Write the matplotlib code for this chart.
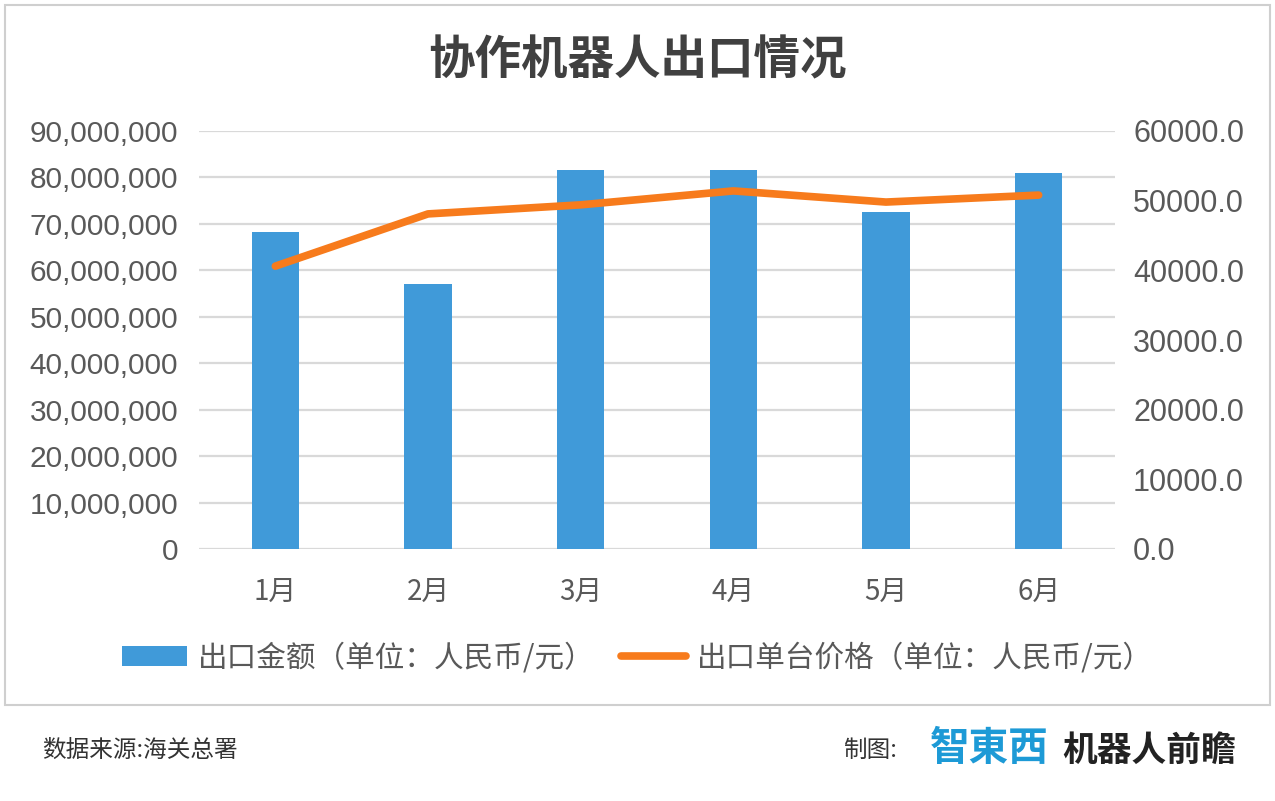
import matplotlib
matplotlib.use("Agg")
import matplotlib.pyplot as plt
from matplotlib.patches import Rectangle
from matplotlib.ticker import FuncFormatter

plt.rcParams['font.family'] = ['Noto Sans CJK SC', 'DejaVu Sans']

months = ['1月', '2月', '3月', '4月', '5月', '6月']
export_amount = [68300000, 57100000, 81700000, 81500000, 72600000, 81000000]
unit_price = [40600.0, 48100.0, 49400.0, 51400.0, 49800.0, 50800.0]
left_ticks = [0, 10000000, 20000000, 30000000, 40000000, 50000000, 60000000, 70000000, 80000000, 90000000]
right_ticks = [0.0, 10000.0, 20000.0, 30000.0, 40000.0, 50000.0, 60000.0]

title = '协作机器人出口情况'
bar_label = '出口金额（单位：人民币/元）'
line_label = '出口单台价格（单位：人民币/元）'

bar_color = '#409ad9'
line_color = '#f77b1c'
text_color = '#595959'
grid_color = '#d9d9d9'
num_font = ['Liberation Sans', 'DejaVu Sans']

fig = plt.figure(figsize=(12.75, 8.01), dpi=100)
fig.patch.set_facecolor('white')

# chart frame
fig.patches.append(Rectangle((5 / 1275, 1 - 705 / 801), 1265 / 1275, 700 / 801,
                             transform=fig.transFigure, facecolor='white',
                             edgecolor='#cfcfcf', linewidth=1.5, zorder=-2))

ax = fig.add_axes([199 / 1275, 1 - 549 / 801, 916 / 1275, 418 / 801])
ax.patch.set_alpha(0)
x = range(len(months))
ax.bar(x, export_amount, width=0.31, color=bar_color, zorder=2, label=bar_label)
ax.set_xlim(-0.5, len(months) - 0.5)
ax.set_ylim(0, 90000000)
ax.set_yticks(left_ticks)
ax.yaxis.set_major_formatter(FuncFormatter(lambda v, p: f'{int(v):,}'))
ax.grid(axis='y', color=grid_color, linewidth=1.6, zorder=0)
ax.set_axisbelow(True)
for s in ax.spines.values():
    s.set_visible(False)
ax.tick_params(axis='both', length=0, colors=text_color)
ax.tick_params(axis='y', pad=15, labelsize=21.5)
ax.tick_params(axis='x', pad=20, labelsize=20)
ax.set_xticks(list(x))
ax.set_xticklabels(months)
for t in ax.get_yticklabels():
    t.set_family(num_font)

ax2 = ax.twinx()
ax2.plot(list(x), unit_price, color=line_color, linewidth=5.5, solid_capstyle='round',
         solid_joinstyle='round', zorder=3, label=line_label)
ax2.set_ylim(0, 60000)
ax2.set_yticks(right_ticks)
ax2.yaxis.set_major_formatter(FuncFormatter(lambda v, p: f'{v:.1f}'))
for s in ax2.spines.values():
    s.set_visible(False)
ax2.tick_params(axis='y', length=0, colors=text_color, pad=13, labelsize=22)
for t in ax2.get_yticklabels():
    t.set_family(num_font)

fig.text(0.5, 1 - 60 / 801, title, fontsize=33.5, fontweight='bold', color='#404040',
         ha='center', va='center')

h1, l1 = ax.get_legend_handles_labels()
h2, l2 = ax2.get_legend_handles_labels()
fig.legend(h1 + h2, l1 + l2, loc='center', bbox_to_anchor=(0.5, 1 - 658 / 801),
           ncol=2, frameon=False, fontsize=21.3, labelcolor=text_color,
           handlelength=2.2, handleheight=0.65, handletextpad=0.35, columnspacing=0.9)

# footer
fig.text(42 / 1275, 1 - 750 / 801, '数据来源:海关总署', fontsize=17, color='#333333',
         ha='left', va='center')
fig.text(843 / 1275, 1 - 750 / 801, '制图:', fontsize=17, color='#333333',
         ha='left', va='center')
fig.text(930 / 1275, 1 - 748 / 801, '智東西', fontsize=28.5, fontweight='bold',
         color='#1d9ad6', ha='left', va='center')
fig.text(1062 / 1275, 1 - 750 / 801, '机器人前瞻', fontsize=25, fontweight='bold',
         color='#222222', ha='left', va='center')

fig.savefig('out.png', dpi=100)
